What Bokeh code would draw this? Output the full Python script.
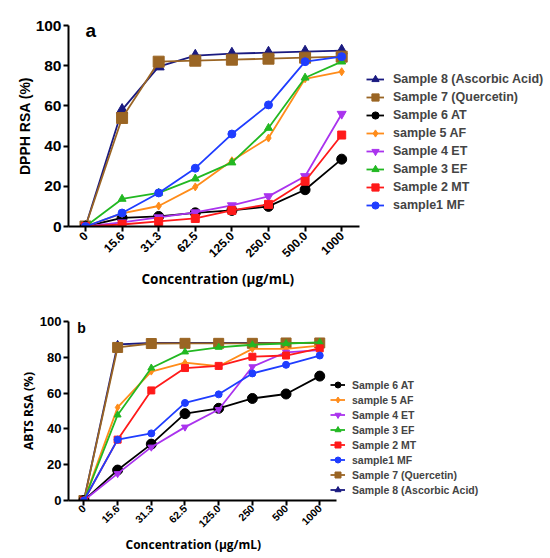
import math
from bokeh.plotting import figure
from bokeh.models import (Range1d, FixedTicker, Legend, LegendItem, Label, Title)
from bokeh.layouts import column
from bokeh.embed import file_html
from bokeh.resources import INLINE

# Concentration categories (µg/mL)
dpph_conc = ["0", "15.6", "31.3", "62.5", "125.0", "250.0", "500.0", "1000"]
abts_conc = ["0", "15.6", "31.3", "62.5", "125.0", "250", "500", "1000"]

# DPPH radical scavenging activity (%)
dpph_s8 = [0, 58, 79.5, 85, 86, 86.5, 87, 87.5]
dpph_s7 = [0, 54, 82, 82.5, 83, 83.5, 84, 84.5]
dpph_s6 = [0, 4.3, 5, 6.8, 8, 10, 18.3, 33.5]
dpph_s5 = [0, 6.5, 10.2, 19.7, 32.7, 44, 73.5, 77]
dpph_s4 = [0, 2, 4.5, 7, 10.5, 15, 25, 56]
dpph_s3 = [0, 13.7, 16.7, 23.8, 31.8, 49, 74, 82]
dpph_s2 = [0, 1, 2.5, 4, 8, 11, 22.5, 45.5]
dpph_s1 = [0, 6.7, 16.7, 29, 46, 60.5, 82, 84.5]

# ABTS radical scavenging activity (%)
abts_s6 = [0, 17, 31.5, 48.5, 51.5, 57, 59.5, 69.5]
abts_s5 = [0, 52, 72, 77, 75, 84.7, 84.7, 86.5]
abts_s4 = [0, 15, 29.8, 41, 50.8, 74.7, 82.8, 84]
abts_s3 = [0, 47.8, 74, 83, 85.6, 87, 87.7, 88.3]
abts_s2 = [0, 34, 61.5, 74, 75.2, 80.3, 81, 85]
abts_s1 = [0, 34, 37.5, 54.5, 59.3, 71, 75.8, 81]
abts_s7 = [0, 85.5, 87.7, 87.8, 87.8, 87.8, 88, 88]
abts_s8 = [0, 87.2, 88, 88, 88, 88, 88, 88]

NAVY = "#1a1a80"
BROWN = "#9a6524"
BLACK = "#000000"
ORANGE = "#ff8c1a"
PURPLE = "#aa33ee"
GREEN = "#22b822"
RED = "#ff1a1a"
BLUE = "#1f3dff"

TICK_FONT = "Liberation Sans"
TITLE_FONT = "Open Sans"


def make_panel(conc, series, legend_order, height, borders, xspan, sizes, letter):
    left, top, bottom = borders
    n = len(conc)
    pos = list(range(n))  # one evenly spaced slot per concentration
    x_start, x_end = xspan
    p = figure(width=550, height=height, x_range=Range1d(x_start, x_end),
               y_range=Range1d(0, 100), output_backend="svg", toolbar_location=None,
               min_border_left=left, min_border_right=0,
               min_border_top=top, min_border_bottom=bottom)
    p.xgrid.visible = False
    p.ygrid.visible = False
    p.outline_line_color = None
    p.background_fill_color = None
    p.yaxis.ticker = FixedTicker(ticks=[0, 20, 40, 60, 80, 100])
    p.xaxis.ticker = FixedTicker(ticks=pos)
    p.xaxis.major_label_overrides = {i: c for i, c in enumerate(conc)}
    # the x axis spans only the concentration slots; the legend uses the space beyond
    p.xaxis.bounds = (x_start, n - 0.5)
    p.axis.minor_tick_line_color = None
    p.axis.major_tick_in = 0
    p.axis.major_tick_out = 5
    p.axis.axis_line_width = 2
    p.axis.major_tick_line_width = 2
    p.axis.axis_line_color = "black"
    p.axis.major_tick_line_color = "black"
    p.axis.major_label_text_color = "black"
    p.axis.major_label_text_font = TICK_FONT
    p.axis.major_label_text_font_style = "bold"
    p.yaxis.major_label_text_font_size = sizes["ytick"]
    p.xaxis.major_label_text_font_size = sizes["xtick"]
    p.xaxis.major_label_orientation = math.pi / 4
    p.axis.axis_label_text_color = "black"
    p.axis.axis_label_text_font_style = "bold"
    p.yaxis.axis_label = sizes["ylabel"]
    p.yaxis.axis_label_text_font = sizes["yfont"]
    p.yaxis.axis_label_text_font_size = sizes["ytitle"]
    p.yaxis.major_label_standoff = 2
    p.yaxis.axis_label_standoff = 0
    p.xaxis.major_label_standoff = sizes["xlstand"]

    # x-axis title, centred under the axis rather than under the whole frame
    p.add_layout(Title(text="Concentration (µg/mL)", align="left", offset=sizes["xoff"],
                       text_font=TITLE_FONT, text_font_style="bold",
                       text_font_size=sizes["xtitle"], text_color="black",
                       standoff=sizes["xstand"]), "below")

    items = {}
    for name, vals, color, marker, msize in series:
        ln = p.line(pos, vals, line_color=color, line_width=1.8)
        sc = p.scatter(pos, vals, marker=marker, size=msize, fill_color=color,
                       line_color=color)
        items[name] = [ln, sc]

    legend = Legend(items=[LegendItem(label=nm, renderers=items[nm]) for nm in legend_order],
                    location=sizes["legend_loc"])
    legend.border_line_color = None
    legend.background_fill_alpha = 0
    legend.margin = 0
    legend.padding = 2
    legend.spacing = 0
    legend.label_text_font = TICK_FONT
    legend.label_text_font_style = "bold"
    legend.label_text_font_size = sizes["legend"]
    legend.label_height = sizes["row"]
    legend.glyph_height = sizes["row"]
    legend.glyph_width = sizes["gw"]
    legend.label_standoff = sizes["standoff"]
    p.add_layout(legend)

    p.add_layout(Label(x=sizes["letter_x"], y=sizes["letter_y"], text=letter,
                       text_font=TICK_FONT, text_font_style="bold",
                       text_font_size=sizes["letter"], text_baseline="middle",
                       text_color="black"))
    return p


series_a = [
    ("Sample 8 (Ascorbic Acid)", dpph_s8, NAVY, "triangle", 11),
    ("Sample 7 (Quercetin)", dpph_s7, BROWN, "square", 11),
    ("Sample 6 AT", dpph_s6, BLACK, "circle", 10),
    ("sample 5 AF", dpph_s5, ORANGE, "diamond", 8),
    ("Sample 4 ET", dpph_s4, PURPLE, "inverted_triangle", 9),
    ("Sample 3 EF", dpph_s3, GREEN, "triangle", 8),
    ("Sample 2 MT", dpph_s2, RED, "square", 8),
    ("sample1 MF", dpph_s1, BLUE, "circle", 8),
]
order_a = [s[0] for s in series_a]

series_b = [
    ("Sample 8 (Ascorbic Acid)", abts_s8, NAVY, "triangle", 7),
    ("Sample 7 (Quercetin)", abts_s7, BROWN, "square", 10),
    ("Sample 6 AT", abts_s6, BLACK, "circle", 10),
    ("sample 5 AF", abts_s5, ORANGE, "diamond", 7),
    ("Sample 4 ET", abts_s4, PURPLE, "inverted_triangle", 7),
    ("Sample 3 EF", abts_s3, GREEN, "triangle", 7),
    ("Sample 2 MT", abts_s2, RED, "square", 7),
    ("sample1 MF", abts_s1, BLUE, "circle", 7),
]
order_b = ["Sample 6 AT", "sample 5 AF", "Sample 4 ET", "Sample 3 EF", "Sample 2 MT",
           "sample1 MF", "Sample 7 (Quercetin)", "Sample 8 (Ascorbic Acid)"]

sizes_a = dict(ytick="15.5px", xtick="12px", xlstand=2, ylabel="DPPH RSA (%)",
               yfont=TICK_FONT, ytitle="14px", xtitle="13.5px", xstand=6, xoff=73,
               legend="12.5px", row=18, gw=18, standoff=9, legend_loc=(298, 12),
               letter="19px", letter_x=0.0, letter_y=97.5)
sizes_b = dict(ytick="13px", xtick="10.5px", xlstand=1, ylabel="ABTS RSA (%)",
               yfont=TITLE_FONT, ytitle="12px", xtitle="12px", xstand=0, xoff=57,
               legend="10.5px", row=15, gw=15, standoff=7, legend_loc=(262, 3),
               letter="14px", letter_x=-0.2, letter_y=96.5)

pa = make_panel(dpph_conc, series_a, order_a, 290, (68, 25, 64), (-0.464, 12.705),
                sizes_a, "a")
pb = make_panel(abts_conc, series_b, order_b, 268, (59, 31, 58), (-0.458, 13.85),
                sizes_b, "b")

layout = column(pa, pb)
open("out.html", "w").write(file_html(layout, INLINE))
